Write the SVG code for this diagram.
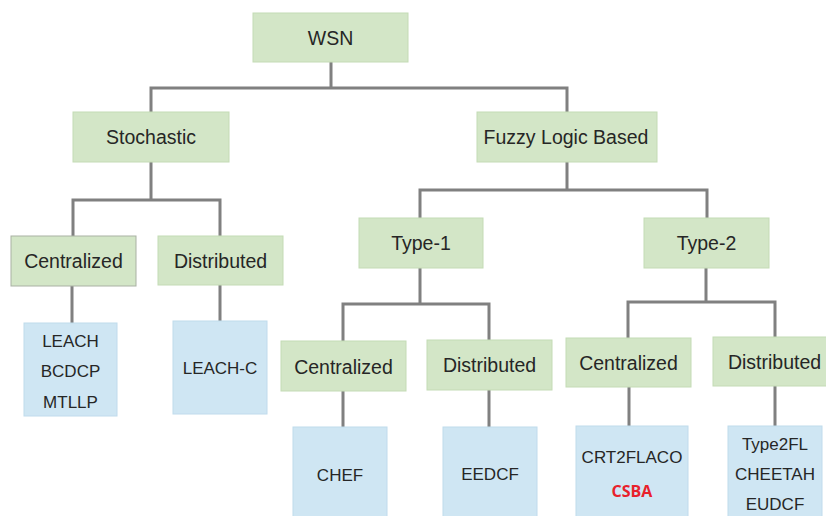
<svg xmlns="http://www.w3.org/2000/svg" width="826" height="516" viewBox="0 0 826 516">
  <style>
    .wire { fill: none; stroke: #808080; stroke-width: 3; stroke-linejoin: miter; }
    .cat rect { fill: #d3e6c7; stroke: #c4dbb5; stroke-width: 1; }
    .cat text { font-family: "Liberation Sans", Arial, sans-serif; font-size: 19.5px; fill: #262626; text-anchor: middle; }
    .proto rect { fill: #cfe6f3; stroke: #c0dbec; stroke-width: 1; }
    .proto text { font-family: "Liberation Sans", Arial, sans-serif; font-size: 17px; fill: #262626; text-anchor: middle; }
    .proto text.hl { font-family: "Open Sans", "Liberation Sans", sans-serif; font-weight: bold; font-size: 16px; fill: #e8212b; }
  </style>

  <!-- tree connectors -->
  <g id="connectors">
    <path class="wire" d="M331 62 V88 M151 112 V88 H567 V112"/>
    <path class="wire" d="M151 162 V200 M73 236 V200 H220 V236"/>
    <path class="wire" d="M567 162 V190 M420 218 V190 H707 V218"/>
    <path class="wire" d="M420 268 V304 M343 341 V304 H489 V340"/>
    <path class="wire" d="M706 268 V302 M628 338 V302 H775 V337"/>
    <path class="wire" d="M72 286 V323 M220 285 V321 M343 391 V427 M489 390 V427 M629 387 V426 M775 386 V426"/>
  </g>

  <!-- category nodes -->
  <g id="wsn" class="cat"><rect x="253" y="13" width="155" height="49"/><text x="330.5" y="45">WSN</text></g>
  <g id="stochastic" class="cat"><rect x="73" y="112" width="156" height="50"/><text x="151" y="144">Stochastic</text></g>
  <g id="fuzzy" class="cat"><rect x="477" y="112" width="180" height="50"/><text x="566" y="144">Fuzzy Logic Based</text></g>
  <g id="sto-centralized" class="cat"><rect x="11" y="236" width="125" height="50" style="stroke:#a9b1a3"/><text x="73.5" y="268">Centralized</text></g>
  <g id="sto-distributed" class="cat"><rect x="158" y="236" width="125" height="49"/><text x="220.5" y="268">Distributed</text></g>
  <g id="type1" class="cat"><rect x="359" y="218" width="124" height="50"/><text x="421" y="250">Type-1</text></g>
  <g id="type2" class="cat"><rect x="644" y="218" width="125" height="50"/><text x="706.5" y="250">Type-2</text></g>
  <g id="t1-centralized" class="cat"><rect x="281" y="341" width="125" height="50"/><text x="343.5" y="373.5">Centralized</text></g>
  <g id="t1-distributed" class="cat"><rect x="427" y="340" width="125" height="50"/><text x="489.5" y="372">Distributed</text></g>
  <g id="t2-centralized" class="cat"><rect x="566" y="338" width="125" height="49"/><text x="628.5" y="370">Centralized</text></g>
  <g id="t2-distributed" class="cat"><rect x="713" y="337" width="114" height="49"/><text x="774.5" y="369">Distributed</text></g>

  <!-- protocol leaves -->
  <g id="leach-group" class="proto">
    <rect x="24" y="323" width="93" height="93"/>
    <text x="70.5" y="347">LEACH</text>
    <text x="70.5" y="377">BCDCP</text>
    <text x="70.5" y="408">MTLLP</text>
  </g>
  <g id="leach-c" class="proto"><rect x="173" y="321" width="94" height="93"/><text x="220" y="374">LEACH-C</text></g>
  <g id="chef" class="proto"><rect x="293" y="427" width="94" height="92"/><text x="340" y="481">CHEF</text></g>
  <g id="eedcf" class="proto"><rect x="443" y="427" width="94" height="92"/><text x="490" y="480">EEDCF</text></g>
  <g id="crt2flaco" class="proto">
    <rect x="576" y="426" width="112" height="93"/>
    <text x="632" y="463">CRT2FLACO</text>
    <text class="hl" x="632" y="497">CSBA</text>
  </g>
  <g id="type2fl" class="proto">
    <rect x="728" y="426" width="94" height="93"/>
    <text x="775" y="450">Type2FL</text>
    <text x="775" y="480">CHEETAH</text>
    <text x="775" y="510">EUDCF</text>
  </g>
</svg>
